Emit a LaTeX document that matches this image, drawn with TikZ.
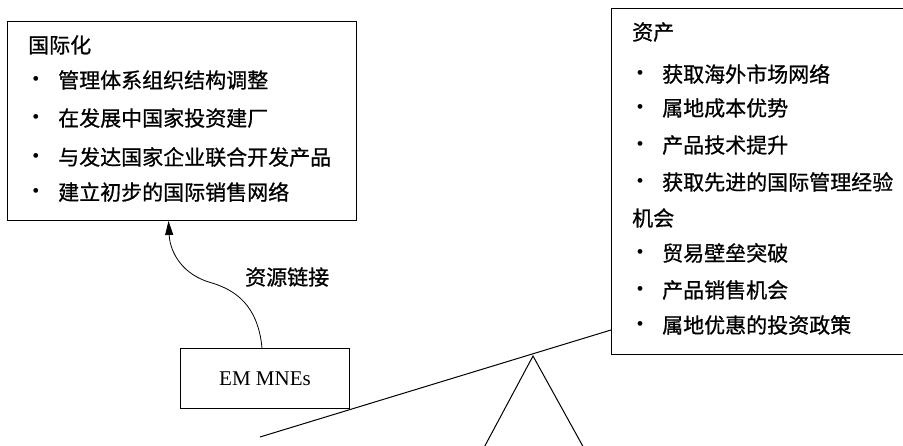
\documentclass[tikz,border=0pt]{standalone}
\usepackage{fontspec}
\setmainfont{Liberation Serif}
\newfontfamily\cjk{Noto Sans CJK SC}[FakeBold=0.8]
\usetikzlibrary{arrows.meta}
\begin{document}
\begin{tikzpicture}[x=1pt,y=-1pt,
  box/.style={draw,line width=1pt,inner sep=0pt,anchor=north west},
  txt/.style={anchor=west,inner sep=0pt,font=\cjk\fontsize{21}{24}\selectfont},
  dotmark/.style={anchor=center,inner sep=0pt,font=\fontsize{20}{20}\selectfont},
  link/.style={line width=0.8pt,-{Triangle[length=14pt,width=8pt]}},
  plain/.style={line width=1pt}]
\useasboundingbox (0,0) rectangle (903,446);
% boxes
\node[box,minimum width=349pt,minimum height=199pt] (intl) at (7,21) {};
\node[box,minimum width=300pt,minimum height=346pt] (res) at (611,8) {};
\node[box,minimum width=169pt,minimum height=60pt,font=\fontsize{21}{25}\selectfont] (em) at (180,348) {EM MNEs};
% left box text
\node[txt] (l0) at (28,45) {国际化};
\foreach \y/\t [count=\i] in {80/管理体系组织结构调整,118/在发展中国家投资建厂,157/与发达国家企业联合开发产品,192/建立初步的国际销售网络}{
  \node[dotmark] (lb\i) at (36,\y+1) {•};
  \node[txt] (lt\i) at (58,\y) {\t};
}
% right box text
\node[txt] (r0) at (632,32) {资产};
\foreach \y/\t [count=\i] in {74/获取海外市场网络,108/属地成本优势,145/产品技术提升,182/获取先进的国际管理经验}{
  \node[dotmark] (rb\i) at (640,\y+1) {•};
  \node[txt] (rt\i) at (662,\y) {\t};
}
\node[txt] (r1) at (632,218) {机会};
\foreach \y/\t [count=\i] in {253/贸易壁垒突破,290/产品销售机会,325/属地优惠的投资政策}{
  \node[dotmark] (ob\i) at (640,\y+1) {•};
  \node[txt] (ot\i) at (662,\y) {\t};
}
% link label
\node[txt] (lab) at (245,277) {资源链接};
% curved arrow
\draw[link] ([xshift=-3pt]em.north) .. controls (258,305) and (235,290) .. (212,283)
  .. controls (182,275) and (170,252) .. ([xshift=-13.5pt]intl.south);
% lever and fulcrum
\coordinate (lvl) at (260,437);
\coordinate (lvr) at (611,330);
\draw[plain] (lvl) -- (lvr);
\coordinate (apex) at (533,356);
\coordinate (bl) at (472,470);
\coordinate (br) at (596,470);
\draw[plain] (bl) -- (apex) -- (br);
\end{tikzpicture}
\end{document}
